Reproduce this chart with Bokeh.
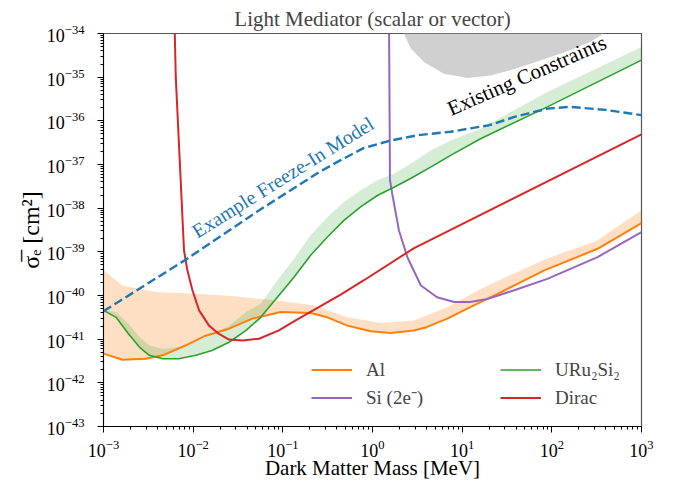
import numpy as np
from bokeh.plotting import figure
from bokeh.models import (Range1d, FixedTicker, Legend, LegendItem, Label)
from bokeh.embed import file_html
from bokeh.resources import INLINE

# ---- data (log10 of mass in MeV, log10 of cross section in cm^2) ----
al_logm = [-3.0, -2.79, -2.53, -2.34, -2.08, -1.86, -1.60, -1.34, -1.023, -0.689, -0.503, -0.280, -0.020, 0.202, 0.462, 0.611, 0.834, 1.057, 1.205, 1.39, 1.91, 2.51, 3.0]
al_logs = [-41.33, -41.47, -41.45, -41.37, -41.14, -40.92, -40.76, -40.53, -40.38, -40.40, -40.50, -40.69, -40.82, -40.86, -40.80, -40.72, -40.53, -40.30, -40.15, -39.97, -39.43, -38.93, -38.34]
al_band_logm = [-3.0, -2.79, -2.42, -1.97, -1.53, -1.08, -0.652, -0.28, 0.091, 0.462, 0.834, 1.205, 1.911, 2.506, 3.0]
al_band_hi = [-39.42, -39.77, -39.92, -39.96, -40.02, -40.11, -40.23, -40.50, -40.63, -40.57, -40.27, -39.85, -39.18, -38.74, -38.05]

uru_logm = [-3.0, -2.86, -2.72, -2.60, -2.49, -2.34, -2.16, -1.97, -1.79, -1.60, -1.41, -1.247, -1.061, -0.876, -0.690, -0.503, -0.318, -0.133, 0.054, 0.239, 0.425, 0.648, 0.871, 1.205, 1.95, 3.0]
uru_logs = [-40.34, -40.50, -40.88, -41.18, -41.37, -41.45, -41.45, -41.37, -41.26, -41.07, -40.80, -40.50, -40.04, -39.58, -39.08, -38.66, -38.28, -37.97, -37.71, -37.52, -37.32, -37.06, -36.79, -36.41, -35.68, -34.61]
uru_band_hi = [-40.34, -40.38, -40.65, -40.95, -41.14, -41.22, -41.18, -41.07, -40.88, -40.69, -40.38, -40.19, -39.65, -39.16, -38.62, -38.20, -37.86, -37.59, -37.36, -37.21, -36.98, -36.68, -36.45, -36.18, -35.34, -34.31]

si_logm = [0.185, 0.195, 0.22, 0.295, 0.39, 0.54, 0.72, 0.91, 1.09, 1.28, 1.58, 1.95, 2.51, 3.0]
si_logs = [-34.0, -37.36, -37.67, -38.51, -39.13, -39.77, -40.04, -40.15, -40.15, -40.08, -39.88, -39.62, -39.12, -38.55]

dirac_logm = [-2.205, -2.194, -2.102, -2.064, -2.008, -1.934, -1.823, -1.712, -1.600, -1.451, -1.266, -1.043, -0.857, -0.355, -0.095, 0.459, 3.0]
dirac_logs = [-34.0, -35.0, -38.97, -39.43, -39.88, -40.34, -40.69, -40.88, -41.01, -41.03, -40.99, -40.80, -40.57, -39.98, -39.65, -38.92, -36.31]

fi_logm = [-3.0, -2.06, -1.25, -0.6, -0.355, -0.095, 0.202, 0.5, 0.871, 1.3, 1.6, 1.95, 2.2, 2.6, 3.0]
fi_logs = [-40.36, -39.15, -38.03, -37.18, -36.90, -36.62, -36.45, -36.33, -36.25, -36.10, -35.90, -35.72, -35.68, -35.75, -35.87]

ex_logm = [0.35, 0.425, 0.573, 0.796, 1.057, 1.317, 1.540, 1.763, 1.986, 2.209, 2.432, 2.58]
ex_logs = [-34.0, -34.34, -34.65, -34.92, -35.02, -34.96, -34.84, -34.69, -34.54, -34.38, -34.19, -34.0]

x_tick_exps = [-3, -2, -1, 0, 1, 2, 3]
y_tick_exps = [-43, -42, -41, -40, -39, -38, -37, -36, -35, -34]

labels = ["Al", "Si (2e\u207b)", "URu\u2082Si\u2082", "Dirac"]
title_text = "Light Mediator (scalar or vector)"
xlabel = "Dark Matter Mass [MeV]"
ylabel = "\u03c3\u0305\u2091 [cm\u00b2]"
freeze_text = "Example Freeze-In Model"
freeze_pos = (-1.0, -37.29)
constraint_text = "Existing Constraints"
constraint_pos = (1.72, -34.96)

C_BLUE, C_ORANGE, C_GREEN, C_RED, C_PURPLE = "#1f77b4", "#ff7f0e", "#2ca02c", "#d62728", "#9467bd"
FONT = "Liberation Serif"

def p10(a):
    return list(10.0 ** np.asarray(a, dtype=float))

p = figure(frame_width=538, frame_height=393, x_axis_type="log", y_axis_type="log",
           x_range=Range1d(10.0 ** x_tick_exps[0], 10.0 ** x_tick_exps[-1]),
           y_range=Range1d(10.0 ** y_tick_exps[0], 10.0 ** y_tick_exps[-1]),
           output_backend="svg", toolbar_location=None,
           min_border_left=103, min_border_right=30, min_border_top=33, min_border_bottom=50,
           title=title_text)

p.title.text_font = FONT
p.title.text_font_size = "21px"
p.title.text_font_style = "normal"
p.title.align = "center"
p.title.standoff = 6
p.title.offset = 0
p.xgrid.visible = False
p.ygrid.visible = False
p.outline_line_color = "#555555"
p.outline_line_width = 1.2

def minor(exps):
    m = []
    for e in exps[:-1]:
        for k in range(2, 10):
            m.append(k * 10.0 ** e)
    return m

p.xaxis.ticker = FixedTicker(ticks=p10(x_tick_exps), minor_ticks=minor(x_tick_exps))
p.yaxis.ticker = FixedTicker(ticks=p10(y_tick_exps), minor_ticks=minor(y_tick_exps))
for ax in (p.xaxis[0], p.yaxis[0]):
    ax.major_tick_out = 6
    ax.major_tick_in = 0
    ax.minor_tick_out = 3
    ax.minor_tick_in = 0
    ax.axis_line_color = "black"
    ax.major_tick_line_color = "black"
    ax.minor_tick_line_color = "black"
    ax.major_label_text_font = FONT
    ax.major_label_text_font_size = "18px"
    ax.major_label_text_color = "black"
    ax.axis_label_text_font = FONT
    ax.axis_label_text_font_size = "21px"
    ax.axis_label_text_font_style = "normal"
    ax.axis_label_text_color = "black"
p.yaxis.axis_label_text_font_size = "24px"
p.xaxis.major_label_standoff = 7
p.yaxis.major_label_standoff = 13
p.xaxis.axis_label = xlabel
p.yaxis.axis_label = ylabel
p.xaxis.axis_label_standoff = -4
p.yaxis.axis_label_standoff = 0

# bands
bx = p10(al_band_logm) + p10(al_logm)[::-1]
by = p10(al_band_hi) + p10(al_logs)[::-1]
p.patch(bx, by, fill_color=C_ORANGE, fill_alpha=0.25, line_color=None)
gx = p10(uru_logm) + p10(uru_logm)[::-1]
gy = p10(uru_band_hi) + p10(uru_logs)[::-1]
p.patch(gx, gy, fill_color=C_GREEN, fill_alpha=0.2, line_color=None)
# existing constraints
p.patch(p10(ex_logm), p10(ex_logs), fill_color="#d0d0d0", line_color=None)

r_al = p.line(p10(al_logm), p10(al_logs), line_color=C_ORANGE, line_width=2)
r_si = p.line(p10(si_logm), p10(si_logs), line_color=C_PURPLE, line_width=2)
r_uru = p.line(p10(uru_logm), p10(uru_logs), line_color=C_GREEN, line_width=1.6)
r_dir = p.line(p10(dirac_logm), p10(dirac_logs), line_color=C_RED, line_width=2)
p.line(p10(fi_logm), p10(fi_logs), line_color=C_BLUE, line_width=2.4, line_dash="9 4")

p.add_layout(Label(x=10 ** freeze_pos[0], y=10 ** freeze_pos[1], text=freeze_text,
                   angle=np.deg2rad(32), text_align="center", text_baseline="middle",
                   text_font=FONT, text_font_size="20px", text_color=C_BLUE))
p.add_layout(Label(x=10 ** constraint_pos[0], y=10 ** constraint_pos[1], text=constraint_text,
                   angle=np.deg2rad(23.5), text_align="center", text_baseline="middle",
                   text_font=FONT, text_font_size="21px", text_color="black"))

def mk_legend(item, loc):
    return Legend(items=[item], location=loc, orientation="vertical",
                  glyph_width=41, glyph_height=25, label_height=25, spacing=0,
                  padding=0, margin=0, border_line_color=None, background_fill_alpha=0,
                  label_standoff=14, label_text_font=FONT, label_text_font_size="19px")

p.add_layout(mk_legend(LegendItem(label=labels[0], renderers=[r_al]), (208, 44)))
p.add_layout(mk_legend(LegendItem(label=labels[1], renderers=[r_si]), (208, 16)))
p.add_layout(mk_legend(LegendItem(label=labels[2], renderers=[r_uru]), (397, 44)))
p.add_layout(mk_legend(LegendItem(label=labels[3], renderers=[r_dir]), (397, 16)))

open("out.html", "w").write(file_html(p, INLINE))
